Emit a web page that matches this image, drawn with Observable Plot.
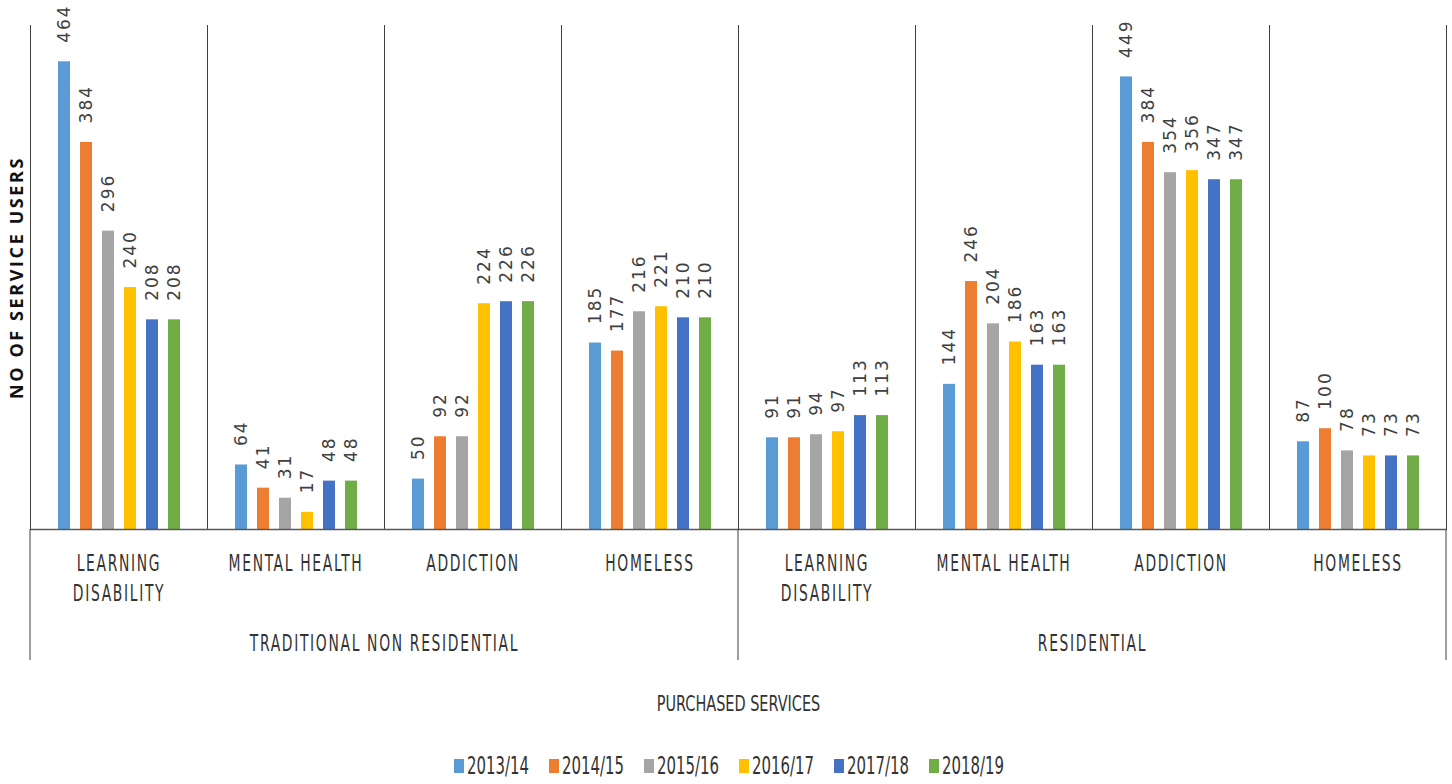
<!DOCTYPE html>
<html>
<head>
<meta charset="utf-8">
<script src="https://cdn.jsdelivr.net/npm/d3@7"></script>
<script src="https://cdn.jsdelivr.net/npm/@observablehq/plot@0.6"></script>
<style>
  body { margin: 0; background: #fff; }
  #chart { width: 1452px; }
  .legend {
    display: flex; justify-content: center; align-items: center;
    height: 54px; margin-top: 9px; padding-left: 6px;
    font-family: "DejaVu Sans Condensed", "DejaVu Sans", sans-serif;
    font-size: 24px; color: #333;
  }
  .legend .item { display: flex; align-items: center; margin: 0 10px; }
  .legend .sw { width: 10px; height: 14px; margin-right: 3px; }
  .legend span { display: inline-block; transform-origin: left center; }
</style>
</head>
<body>
<div id="chart"></div>
<div class="legend" id="legend"></div>
<script>
// Service groups and categories along the bottom
const groups = ["TRADITIONAL NON RESIDENTIAL", "RESIDENTIAL"];
const categories = ["LEARNING\nDISABILITY", "MENTAL HEALTH", "ADDICTION", "HOMELESS"];
const years = ["2013/14", "2014/15", "2015/16", "2016/17", "2017/18", "2018/19"];
const yearColors = ["#5B9BD5", "#ED7D31", "#A5A5A5", "#FFC000", "#4472C4", "#70AD47"];

// Number of service users, one row per category, one value per year
const traditionalValues = [
  [464, 384, 296, 240, 208, 208],
  [64, 41, 31, 17, 48, 48],
  [50, 92, 92, 224, 226, 226],
  [185, 177, 216, 221, 210, 210]
];
const residentialValues = [
  [91, 91, 94, 97, 113, 113],
  [144, 246, 204, 186, 163, 163],
  [449, 384, 354, 356, 347, 347],
  [87, 100, 78, 73, 73, 73]
];

const yTitle = "NO OF SERVICE USERS";
const xTitle = "PURCHASED SERVICES";

// Flatten into a tidy table keyed by group|category
const groupValues = [traditionalValues, residentialValues];
const keys = [];
const catRows = [];
const rows = [];
groups.forEach((g, gi) => {
  categories.forEach((c, ci) => {
    const key = g + "|" + c;
    keys.push(key);
    catRows.push({key, label: c});
    years.forEach((y, yi) => rows.push({key, year: y, value: groupValues[gi][ci][yi]}));
  });
});
// Group labels sit on the boundary between the 2nd and 3rd category of each group
const groupRows = groups.map((g) => ({key: g + "|" + categories[1], label: g}));

const narrow = "'DejaVu Sans Condensed', 'DejaVu Sans', sans-serif";

const chart = Plot.plot({
  width: 1452,
  height: 730,
  marginTop: 25,
  marginBottom: 201,
  marginLeft: 30,
  marginRight: 6,
  style: {background: "#fff", fontFamily: narrow, color: "#404040", overflow: "visible"},
  fx: {domain: keys, padding: 0, axis: null, label: null},
  x: {domain: years, paddingInner: 0.46, paddingOuter: 1.18, axis: null, label: null},
  y: {domain: [0, 500], axis: null, label: null},
  color: {domain: years, range: yearColors},
  marks: [
    Plot.frame({anchor: "left", stroke: "#3f3f3f"}),
    Plot.frame({anchor: "right", stroke: "#3f3f3f"}),
    Plot.barY(rows, {fx: "key", x: "year", y: "value", fill: "year"}),
    Plot.ruleY([0], {stroke: "#595959", strokeWidth: 1.5}),
    Plot.text(rows, {
      fx: "key", x: "year", y: "value", text: (d) => String(d.value),
      rotate: -90, textAnchor: "start", lineAnchor: "middle", dy: -19,
      fontFamily: "DejaVu Sans", fontSize: 17, fill: "#404040",
      ariaDescription: "value labels"
    }),
    Plot.text(catRows, {
      fx: "key", text: "label", frameAnchor: "bottom", lineAnchor: "top",
      dy: 20, lineHeight: 1.3, fontSize: 23, fill: "#333",
      ariaDescription: "category labels"
    }),
    Plot.text(groupRows, {
      fx: "key", text: "label", frameAnchor: "bottom-right", textAnchor: "middle",
      lineAnchor: "middle", dy: 114, fontSize: 23, fill: "#333",
      ariaDescription: "group labels"
    }),
    Plot.text([keys[3]], {
      fx: (d) => d, text: () => xTitle, frameAnchor: "bottom-right", textAnchor: "middle",
      lineAnchor: "middle", dy: 174, fontSize: 22, fill: "#333",
      ariaDescription: "x title"
    }),
    Plot.text([keys[0]], {
      fx: (d) => d, text: () => yTitle, frameAnchor: "left", rotate: -90,
      textAnchor: "middle", lineAnchor: "middle", dx: -13,
      fontFamily: "'Open Sans', sans-serif", fontWeight: "bold", fontSize: 18, fill: "#111",
      ariaDescription: "y title"
    })
  ]
});

document.getElementById("chart").appendChild(chart);

const svg = d3.select(chart.tagName === "svg" ? chart : chart.querySelector("svg"));

// Squeeze text horizontally to a narrow face, keeping its height
function condense(selection, factor) {
  selection.each(function () {
    const spans = this.querySelectorAll("tspan");
    const parts = spans.length ? Array.from(spans) : [this];
    parts.forEach((t) => {
      const len = t.getComputedTextLength();
      t.setAttribute("textLength", len * factor);
      t.setAttribute("lengthAdjust", "spacingAndGlyphs");
    });
  });
}

svg.selectAll('g[aria-description="value labels"] text').style("letter-spacing", "2px");
svg.selectAll('g[aria-description="category labels"] text').style("letter-spacing", "2.5px");
svg.selectAll('g[aria-description="group labels"] text').style("letter-spacing", "2.5px");
svg.selectAll('g[aria-description="y title"] text').style("letter-spacing", "2.6px");
condense(svg.selectAll('g[aria-description="category labels"] text'), 0.67);
condense(svg.selectAll('g[aria-description="group labels"] text'), 0.67);
condense(svg.selectAll('g[aria-description="x title"] text'), 0.73);

// Group dividers continue below the baseline, down past the group labels
const fx = chart.scale("fx");
const yScale = chart.scale("y");
const y0 = yScale.apply(0);
const dividerEnd = 660;
const edges = [fx.apply(keys[0]), fx.apply(keys[4]), fx.apply(keys[7]) + fx.bandwidth];
svg.append("g")
  .selectAll("line")
  .data(edges)
  .join("line")
  .attr("x1", (d) => d).attr("x2", (d) => d)
  .attr("y1", y0).attr("y2", dividerEnd)
  .attr("stroke", "#3f3f3f");

// Legend built from the same year/colour arrays
const legend = d3.select("#legend");
const squeeze = 0.69;
years.forEach((y, i) => {
  const item = legend.append("div").attr("class", "item");
  item.append("div").attr("class", "sw").style("background", yearColors[i]);
  const label = item.append("span").text(y);
  const w = label.node().getBoundingClientRect().width;
  label.style("transform", `scaleX(${squeeze})`).style("margin-right", `${-w * (1 - squeeze)}px`);
});
</script>
</body>
</html>
